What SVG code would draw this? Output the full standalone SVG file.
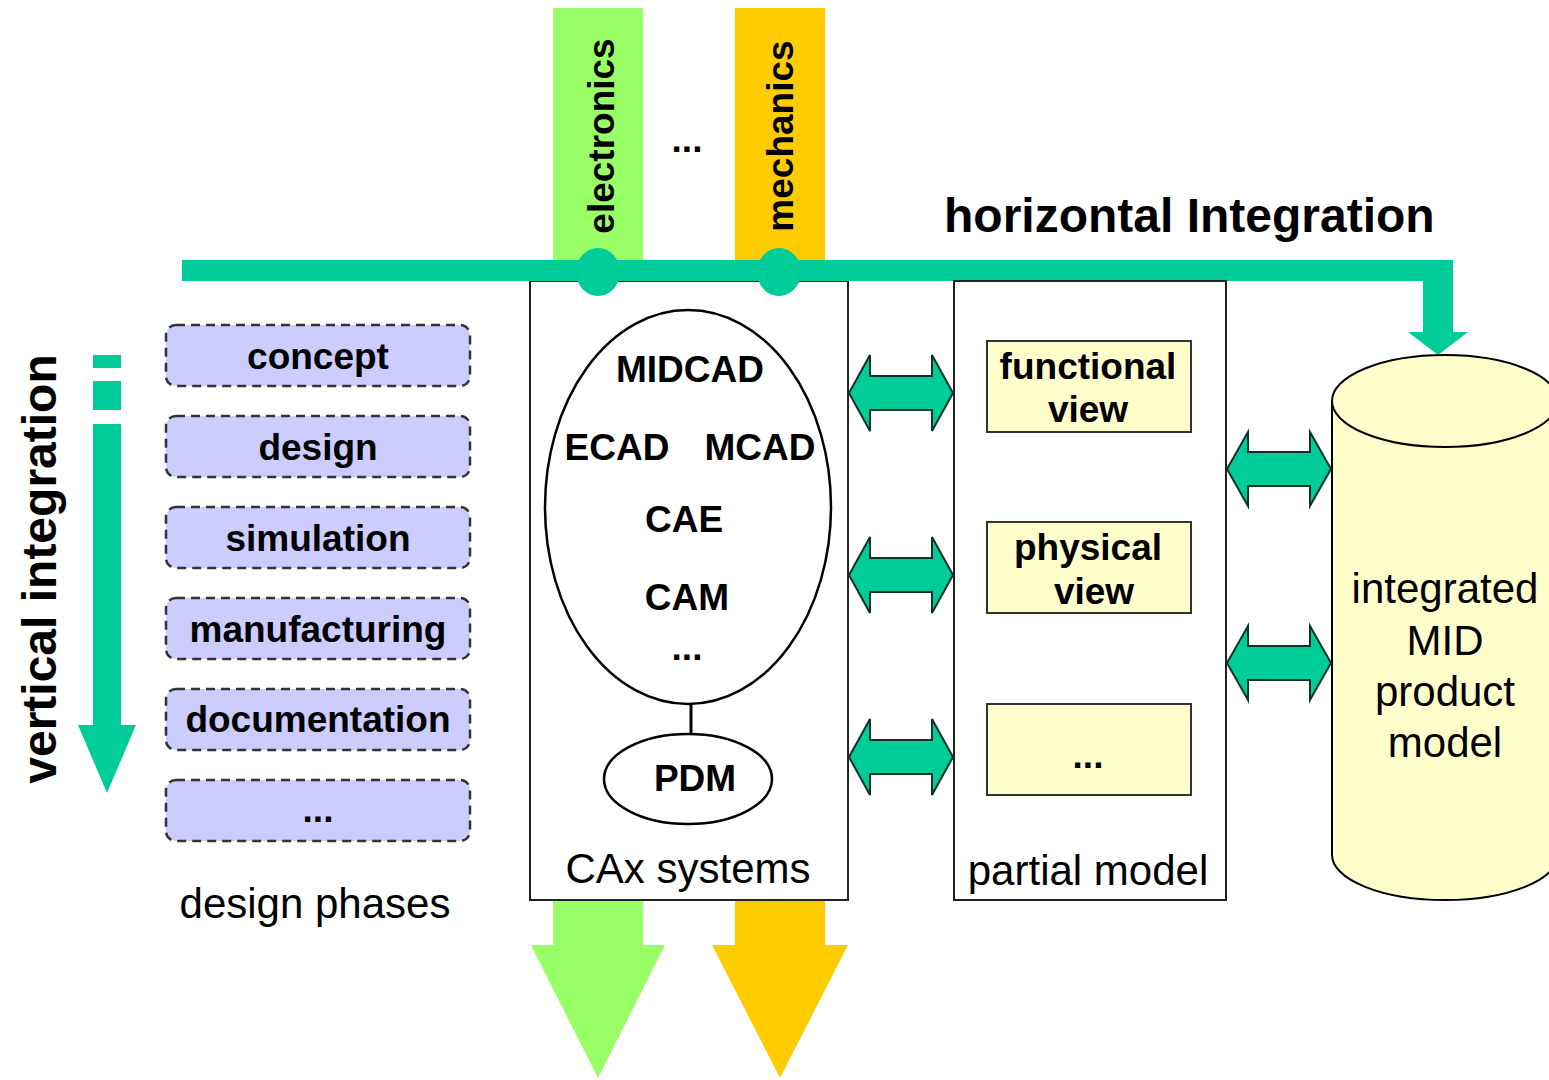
<svg xmlns="http://www.w3.org/2000/svg" width="1549" height="1080" viewBox="0 0 1549 1080">
<style>
text{font-family:"Liberation Sans",Arial,sans-serif;fill:#000}
.b{font-weight:bold;font-size:37px;text-anchor:middle}
.big{font-weight:bold;font-size:48px}
.r{font-size:42px;text-anchor:middle}
.phase{fill:#CCCCFF;stroke:#333;stroke-width:2.5;stroke-dasharray:9 6}
.view{fill:#FFFFCC;stroke:#333;stroke-width:2}
.box{fill:#fff;stroke:#222;stroke-width:2}
.dbl{fill:#00CC99;stroke:#0b3328;stroke-width:2;stroke-linejoin:miter}
.teal{fill:#00CC99}
</style>
<rect width="1549" height="1080" fill="#fff"/>

<g id="discipline-bars">
<rect x="553" y="8" width="90" height="254" fill="#99FF66"/>
<rect x="735" y="8" width="90" height="254" fill="#FFCC00"/>
<polygon points="553,900 643,900 643,945 665,945 598,1078 531,945 553,945" fill="#99FF66"/>
<polygon points="735,900 825,900 825,945 848,945 780,1078 712,945 735,945" fill="#FFCC00"/>
<text class="b" transform="translate(614,136) rotate(-90)">electronics</text>
<text class="b" transform="translate(793,136) rotate(-90)">mechanics</text>
<text class="b" x="687" y="152">...</text>
</g>

<g id="cax-systems">
<rect class="box" x="530" y="281" width="318" height="619"/>
<ellipse cx="688" cy="507" rx="143" ry="197" fill="#fff" stroke="#000" stroke-width="2.5"/>
<line x1="691" y1="704" x2="691" y2="735" stroke="#000" stroke-width="3"/>
<ellipse cx="688" cy="779" rx="84" ry="45" fill="#fff" stroke="#000" stroke-width="2.5"/>
<text class="b" x="690" y="382">MIDCAD</text>
<text class="b" x="617" y="460">ECAD</text>
<text class="b" x="760" y="460">MCAD</text>
<text class="b" x="684" y="532">CAE</text>
<text class="b" x="687" y="610">CAM</text>
<text class="b" x="687" y="660">...</text>
<text class="b" x="695" y="791">PDM</text>
<text class="r" x="688" y="883">CAx systems</text>
</g>

<g id="horizontal-integration">
<rect class="teal" x="182" y="260" width="1271" height="21"/>
<polygon class="teal" points="1423,270 1453,270 1453,332 1468,332 1438,355 1408,332 1423,332"/>
<ellipse class="teal" cx="598" cy="272" rx="22" ry="24"/>
<ellipse class="teal" cx="779" cy="272" rx="22" ry="24"/>
<text class="big" x="944" y="232">horizontal Integration</text>
</g>

<g id="vertical-integration">
<rect class="teal" x="93" y="355" width="28" height="13"/>
<rect class="teal" x="93" y="381" width="28" height="29"/>
<polygon class="teal" points="93,424 121,424 121,725 136,725 107,793 78,725 93,725"/>
<text class="big" text-anchor="middle" transform="translate(56,569) rotate(-90)">vertical integration</text>
</g>

<g id="design-phases">
<rect class="phase" x="166" y="325" width="304" height="61" rx="10"/>
<rect class="phase" x="166" y="416" width="304" height="61" rx="10"/>
<rect class="phase" x="166" y="507" width="304" height="61" rx="10"/>
<rect class="phase" x="166" y="598" width="304" height="61" rx="10"/>
<rect class="phase" x="166" y="689" width="304" height="61" rx="10"/>
<rect class="phase" x="166" y="780" width="304" height="61" rx="10"/>
<text class="b" x="318" y="369">concept</text>
<text class="b" x="318" y="460">design</text>
<text class="b" x="318" y="551">simulation</text>
<text class="b" x="318" y="642">manufacturing</text>
<text class="b" x="318" y="732">documentation</text>
<text class="b" x="318" y="822">...</text>
<text class="r" x="315" y="918">design phases</text>
</g>

<g id="partial-model">
<rect class="box" x="954" y="281" width="272" height="619"/>
<rect class="view" x="987" y="341" width="204" height="91"/>
<rect class="view" x="987" y="522" width="204" height="91"/>
<rect class="view" x="987" y="704" width="204" height="91"/>
<text class="b" x="1088" y="379">functional</text>
<text class="b" x="1088" y="422">view</text>
<text class="b" x="1088" y="560">physical</text>
<text class="b" x="1094" y="604">view</text>
<text class="b" x="1088" y="768">...</text>
<text class="r" x="1088" y="885">partial model</text>
</g>

<g id="product-model">
<path d="M1332,401 L1332,855 A113,45 0 0 0 1558,855 L1558,401 Z" fill="#FFFFCC" stroke="#000" stroke-width="2"/>
<ellipse cx="1445" cy="401" rx="113" ry="46" fill="#FFFFCC" stroke="#000" stroke-width="2"/>
<text class="r" x="1445" y="603">integrated</text>
<text class="r" x="1445" y="655">MID</text>
<text class="r" x="1445" y="706">product</text>
<text class="r" x="1445" y="757">model</text>
</g>

<g id="connectors">
<polygon class="dbl" points="849,393 870,355 870,376 932,376 932,355 953,393 932,431 932,410 870,410 870,431"/>
<polygon class="dbl" points="849,575 870,537 870,558 932,558 932,537 953,575 932,613 932,592 870,592 870,613"/>
<polygon class="dbl" points="849,757 870,719 870,740 932,740 932,719 953,757 932,795 932,774 870,774 870,795"/>
<polygon class="dbl" points="1227,469 1248,432 1248,452 1310,452 1310,432 1331,469 1310,506 1310,486 1248,486 1248,506"/>
<polygon class="dbl" points="1227,663 1248,626 1248,646 1310,646 1310,626 1331,663 1310,700 1310,680 1248,680 1248,700"/>
</g>
</svg>
